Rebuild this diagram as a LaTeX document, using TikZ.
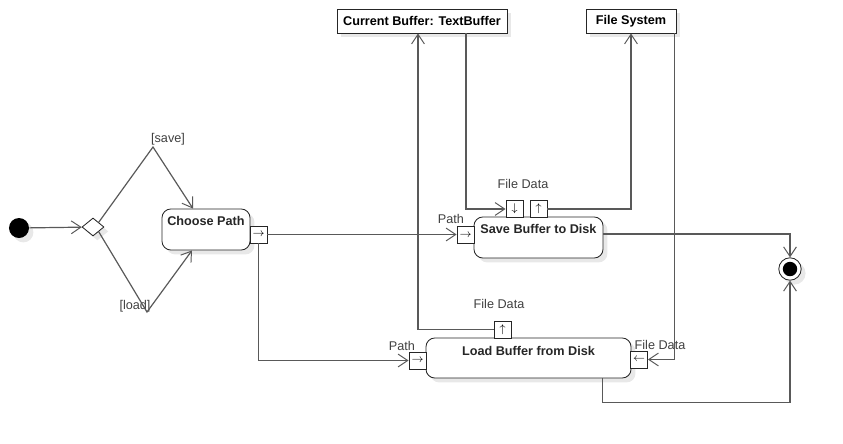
\documentclass[tikz,border=0pt]{standalone}
\usepackage{fontspec}
\setmainfont{Liberation Sans}
\usetikzlibrary{shapes.geometric,shadows,arrows.meta}
\definecolor{linegray}{gray}{0.35}
\definecolor{textgray}{gray}{0.25}

\tikzset{
  flow/.style={draw=linegray, line width=0.85pt, -{Straight Barb[length=2.4mm,width=3.2mm,line width=0.7pt]}},
  softshadow/.style={drop shadow={shadow xshift=1.1mm, shadow yshift=-1.1mm, fill=black!9, opacity=1}},
  act/.style={draw=black!85, line width=0.6pt, rounded corners=2.2mm, fill=white, softshadow},
  acttext/.style={font=\fontsize{9}{10}\selectfont\bfseries, text=black!85, anchor=north, yshift=-0.6mm},
  objbox/.style={draw=black!85, line width=0.6pt, fill=white, minimum height=6mm, inner sep=1pt,
    font=\fontsize{9}{10}\selectfont\bfseries, softshadow},
  pinbox/.style={draw=black!85, line width=0.6pt, fill=white, minimum size=4.25mm, inner sep=0pt,
    font=\footnotesize},
  lbl/.style={text=textgray, font=\fontsize{9}{10}\selectfont, inner sep=1pt},
}

\begin{document}
\begin{tikzpicture}[x=0.025cm,y=-0.025cm]
\useasboundingbox (0,0) rectangle (843,443);

% objects on top
\node[objbox, minimum width=42.5mm] (buf) at (422,21) {Current Buffer: TextBuffer};
\node[objbox, minimum width=22.5mm] (fs) at (631,21) {File System};

% start, decision, end
\node[circle, fill=black, minimum size=5mm, inner sep=0pt, softshadow] (init) at (19,228) {};
\node[diamond, draw=black!85, fill=white, line width=0.6pt, minimum width=5.5mm, minimum height=4.5mm, inner sep=0pt, softshadow] (dec) at (93,227) {};
\node[circle, draw=black!85, fill=white, line width=0.6pt, minimum size=5.6mm, inner sep=0pt, softshadow] (finalo) at (790,269) {};
\node[circle, fill=black, minimum size=3.6mm, inner sep=0pt] (finali) at (finalo) {};

% actions
\node[act, minimum width=22mm, minimum height=10.25mm,
  label={[acttext]north:Choose Path}] (choose) at (206,229.5) {};
\node[act, minimum width=32.25mm, minimum height=10.25mm,
  label={[acttext]north:Save Buffer to Disk}] (save) at (538.5,237.5) {};
\node[act, minimum width=51.25mm, minimum height=10mm,
  label={[acttext, yshift=-0.4mm]north:Load Buffer from Disk}] (load) at (528.5,358) {};

% pins
\node[pinbox] (chooseout) at (258.5,234.5) {$\rightarrow$};
\node[pinbox] (savein) at (465.5,235) {$\rightarrow$};
\node[pinbox] (savedin) at (514.5,209) {$\downarrow$};
\node[pinbox] (saveout) at (538.5,209) {$\uparrow$};
\node[pinbox] (loadin) at (417.5,360.5) {$\rightarrow$};
\node[pinbox] (loadout) at (502.5,329.5) {$\uparrow$};
\node[pinbox] (loaddin) at (639,359.5) {$\leftarrow$};

% labels
\coordinate (savebend) at (153,147);
\coordinate (loadbend) at (147,312);
\node[lbl] (savelbl) at (168,139) {[save]};
\node[lbl] (loadlbl) at (135,306) {[load]};
\node[lbl] (savedatalbl) at (523,184) {File Data};
\node[lbl] (savepathlbl) at (451,219) {Path};
\node[lbl] (loaddatalbl) at (499,304) {File Data};
\node[lbl] (loadpathlbl) at (402,346) {Path};
\node[lbl] (loadfilelbl) at (660,345) {File Data};

% control flow
\draw[flow] (init) -- (dec);
\draw[flow] (dec.north east) -- (savebend) -- ([xshift=-3.25mm]choose.north);
\draw[flow] (dec.south east) -- (loadbend) -- ([xshift=-3.5mm]choose.south);
\draw[flow] ([yshift=0.9mm]save.east) -| (finalo.north);
\draw[flow] ([xshift=18.4mm]load.south) |- ++(0,24) -| (finalo.south);

% object flow
\draw[flow] (chooseout.east) -- (chooseout.east -| savein.west);
\draw[flow] (chooseout.south) |- (loadin.west);
\draw[flow] ([xshift=11mm]buf.south) |- (savedin.west);
\draw[flow] (saveout.east) -| (fs.south);
\draw[flow] ([xshift=-0.5mm]fs.south east) |- (loaddin.east);
\draw[flow] (loadout.west) -| ([xshift=-1mm]buf.south);
\end{tikzpicture}
\end{document}
